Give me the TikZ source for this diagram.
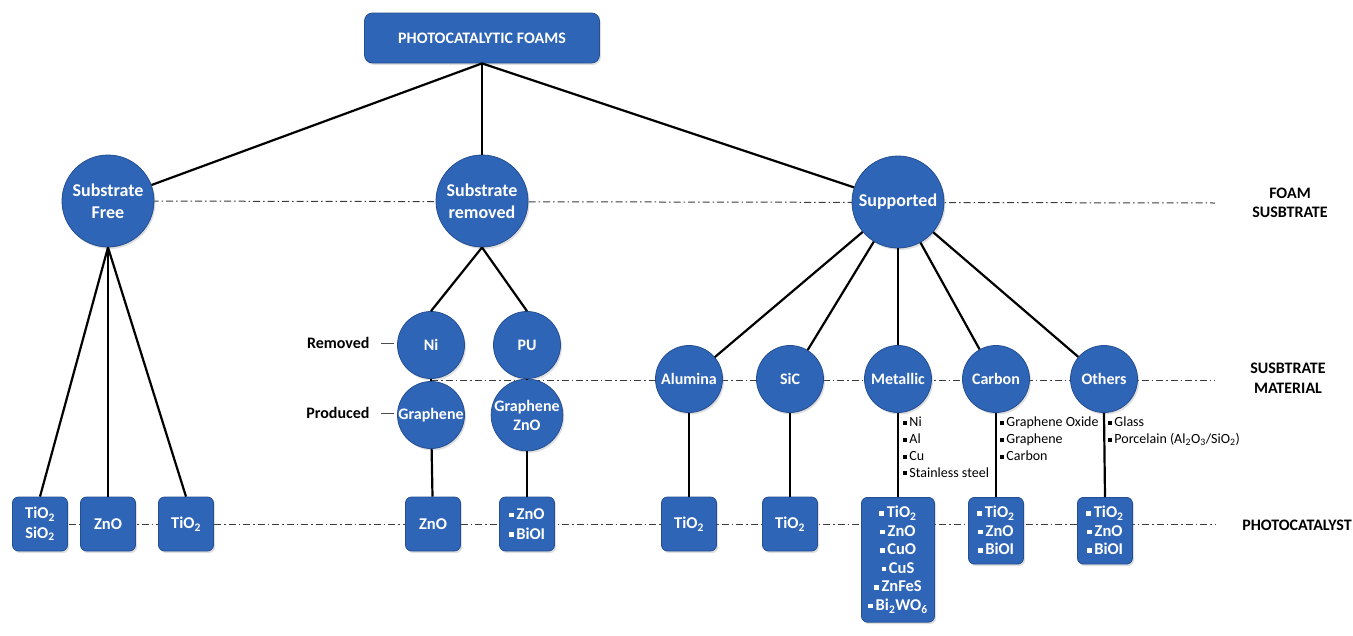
\documentclass[tikz,border=0pt]{standalone}
\usepackage{fontspec}
\setmainfont{Carlito}
\usetikzlibrary{shadows}
\definecolor{nblue}{RGB}{47,101,183}
\definecolor{nedge}{RGB}{36,78,145}
\definecolor{dashc}{RGB}{60,60,60}
\pgfdeclarelayer{bg}\pgfsetlayers{bg,main}
\newcommand\sqb{\raisebox{0.28ex}{\rule{0.28em}{0.28em}}\,}
\newcommand\sbs[1]{\textsubscript{#1}}
\begin{document}
\begin{tikzpicture}[x=1pt,y=-1pt,
  ball/.style={circle,fill=nblue,draw=nedge,line width=0.8pt,text=white,align=center,inner sep=0pt,
    drop shadow={opacity=0.25,shadow xshift=1.5pt,shadow yshift=-2pt}},
  bigball/.style={ball,minimum size=92pt,font=\fontsize{18}{22.5}\selectfont\bfseries},
  smallball/.style={ball,minimum size=67pt,font=\fontsize{16}{19}\selectfont\bfseries},
  catbox/.style={rectangle,rounded corners=6pt,fill=nblue,draw=nedge,line width=0.8pt,text=white,align=center,
    minimum width=55pt,minimum height=54pt,inner sep=3pt,font=\fontsize{16.5}{18.5}\selectfont\bfseries,
    drop shadow={opacity=0.25,shadow xshift=1.5pt,shadow yshift=-2pt}},
  listbox/.style={catbox,anchor=north,inner ysep=9pt},
  conn/.style={draw=black,line width=2.2pt},
  dashline/.style={draw=dashc,line width=1pt,dash pattern=on 7pt off 3pt on 1.5pt off 3pt},
  sidelabel/.style={font=\fontsize{16}{19.5}\selectfont\bfseries,align=center,text=black},
  smalllist/.style={font=\fontsize{14}{16.8}\selectfont,align=left,anchor=north west,inner sep=0pt,text=black}
]
\useasboundingbox (0,0) rectangle (1353,635);

% top
\node[rectangle,rounded corners=8pt,fill=nblue,draw=nedge,line width=0.8pt,text=white,
  minimum width=235pt,minimum height=50pt,font=\fontsize{16}{19}\selectfont\bfseries,
  drop shadow={opacity=0.25,shadow xshift=1.5pt,shadow yshift=-2pt}] (top) at (482,38) {PHOTOCATALYTIC FOAMS};

% foam substrate level
\node[bigball] (sf) at (108,201) {Substrate\\Free};
\node[bigball] (sr) at (482,201) {Substrate\\removed};
\node[bigball] (sup) at (898,202) {Supported};

% substrate material level
\node[smallball] (ni) at (431,345) {Ni};
\node[smallball] (pu) at (527,345) {PU};
\node[smallball] (gr) at (431,415) {Graphene};
\node[smallball] (grz) at (527,415) {Graphene\\ZnO};
\node[smallball] (alu) at (689,379) {Alumina};
\node[smallball] (sic) at (790,379) {SiC};
\node[smallball] (met) at (898,379) {Metallic};
\node[smallball] (carb) at (996,379) {Carbon};
\node[smallball] (oth) at (1104,379) {Others};

% photocatalyst level
\node[catbox] (c1) at (40,524) {TiO\sbs{2}\\[1pt]SiO\sbs{2}};
\node[catbox] (c2) at (108,524) {ZnO};
\node[catbox] (c3) at (186,524) {TiO\sbs{2}};
\node[catbox] (c4) at (433,524) {ZnO};
\node[catbox] (c5) at (527,524) {\sqb ZnO\\[1pt]\sqb BiOI};
\node[catbox] (c6) at (689,524) {TiO\sbs{2}};
\node[catbox] (c7) at (790,524) {TiO\sbs{2}};
\node[listbox,minimum width=73pt] (c8) at (898,497) {\sqb TiO\sbs{2}\\\sqb ZnO\\\sqb CuO\\\sqb CuS\\\sqb ZnFeS\\\sqb Bi\sbs{2}WO\sbs{6}};
\node[listbox] (c9) at (996,497) {\sqb TiO\sbs{2}\\\sqb ZnO\\\sqb BiOI};
\node[listbox] (c10) at (1105,497) {\sqb TiO\sbs{2}\\\sqb ZnO\\\sqb BiOI};

% side labels
\node[sidelabel] (lfoam) at (1290,203) {FOAM\\SUSBTRATE};
\node[sidelabel] (lmat) at (1288,378) {SUSBTRATE\\MATERIAL};
\node[sidelabel] (lcat) at (1297,525) {PHOTOCATALYST};
\node[sidelabel,anchor=east] (lrem) at (373,343) {Removed};
\node[sidelabel,anchor=east] (lpro) at (373,413) {Produced};

% small lists
\node[smalllist] (lmet) at (903,417) {\sqb Ni\\\sqb Al\\\sqb Cu\\\sqb Stainless steel};
\node[smalllist] (lcar) at (1000,417) {\sqb Graphene Oxide\\\sqb Graphene\\\sqb Carbon};
\node[smalllist] (loth) at (1108,417) {\sqb Glass\\\sqb Porcelain (Al\sbs{2}O\sbs{3}/SiO\sbs{2})};

% dash line end points
\coordinate (e1) at (1215,203);
\coordinate (e2) at (1215,380);
\coordinate (e3) at (1215,524);
\coordinate (s2) at (431,380);

\begin{pgfonlayer}{bg}
  \draw[dashline] (sf.center) -- (e1);
  \draw[dashline] (s2) -- (e2);
  \draw[dashline] (c1.center) -- (e3);
\end{pgfonlayer}

% connectors
\draw[conn] (top.south) -- (sf);
\draw[conn] (top.south) -- (sr.north);
\draw[conn] (top.south) -- (sup);
\draw[conn] (sf.south) -- (c1.north);
\draw[conn] (sf.south) -- (c2.north);
\draw[conn] (sf.south) -- (c3.north);
\draw[conn] (sr.south) -- (ni.north);
\draw[conn] (sr.south) -- (pu.north);
\draw[conn] (ni) -- (gr);
\draw[conn] (pu) -- (grz);
\draw[conn] (gr) -- (c4);
\draw[conn] (grz) -- (c5);
\draw[conn] (sup) -- (alu);
\draw[conn] (sup) -- (sic);
\draw[conn] (sup) -- (met);
\draw[conn] (sup) -- (carb);
\draw[conn] (sup) -- (oth);
\draw[conn] (alu) -- (c6);
\draw[conn] (sic) -- (c7);
\draw[conn] (met) -- (c8);
\draw[conn] (carb) -- (c9);
\draw[conn] (oth.south) -- (c10.north);
\draw[draw=black!70,line width=1pt] ([xshift=8pt]lrem.east) -- ([xshift=21pt]lrem.east);
\draw[draw=black!70,line width=1pt] ([xshift=8pt]lpro.east) -- ([xshift=21pt]lpro.east);
\end{tikzpicture}
\end{document}
